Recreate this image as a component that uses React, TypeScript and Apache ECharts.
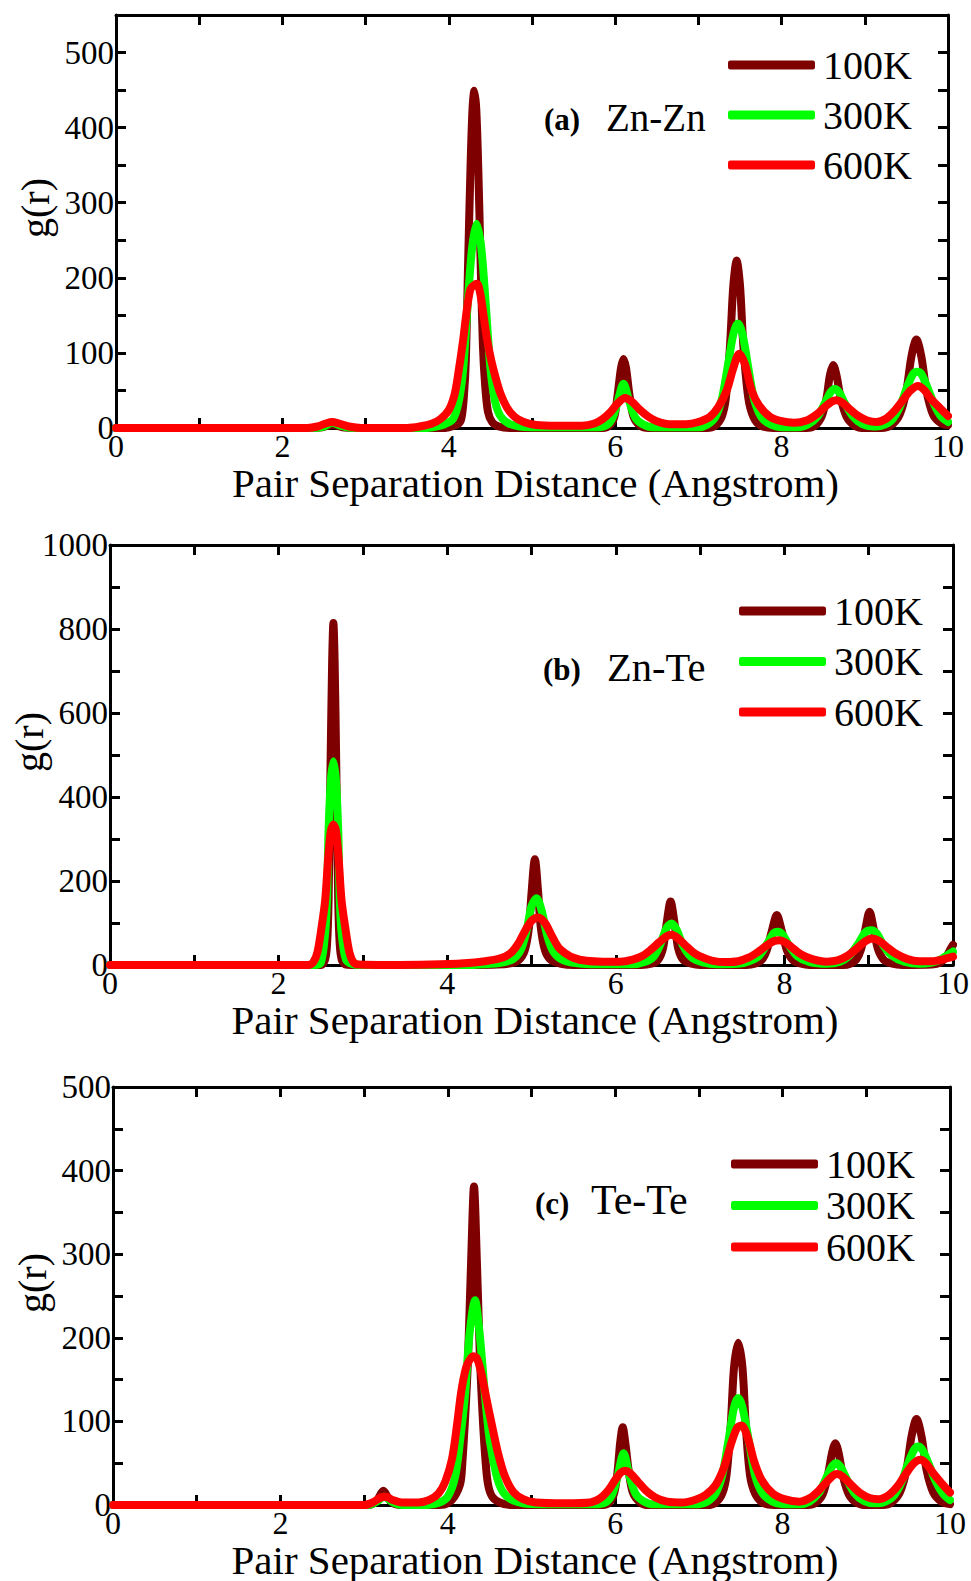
import React, { useEffect, useRef } from "react";
import * as echarts from "echarts";

// ---------------- DATA ----------------
const seriesNames = ["100K", "300K", "600K"];
const xTickLabels = ["0", "2", "4", "6", "8", "10"];
const panelTitles = ["Zn-Zn", "Zn-Te", "Te-Te"];
const panelTags = ["(a)", "(b)", "(c)"];
const xAxisTitle = "Pair Separation Distance (Angstrom)";
const yAxisTitle = "g(r)";

// Panel (a) Zn-Zn : [r, g(r)]
const znZn100K = [[0,0],[2.3,0],[2.45,0.5],[2.6,4],[2.75,0.5],[2.9,0],[3.9,0],[4.0,1],[4.11,5],[4.15,12],[4.18,40],[4.205,90],[4.23,210],[4.26,343],[4.285,425],[4.307,449],[4.33,425],[4.355,343],[4.385,210],[4.41,110],[4.435,60],[4.47,22],[4.52,8],[4.6,2],[4.75,0],[5.85,0],[5.93,3],[5.99,15],[6.03,45],[6.07,80],[6.10,92],[6.13,80],[6.17,45],[6.22,15],[6.3,3],[6.4,0],[7.1,0],[7.2,3],[7.28,15],[7.33,40],[7.38,110],[7.42,190],[7.46,223],[7.5,190],[7.54,110],[7.6,40],[7.66,15],[7.75,3],[7.9,0],[8.3,0],[8.4,3],[8.48,15],[8.54,40],[8.58,70],[8.62,84],[8.66,70],[8.71,40],[8.78,15],[8.88,3],[9.0,0],[9.2,0],[9.32,4],[9.42,18],[9.5,50],[9.56,95],[9.62,118],[9.68,95],[9.74,50],[9.82,18],[9.92,6],[10,4]];
const znZn300K = [[0,0],[2.35,0],[2.5,2],[2.6,7],[2.7,3],[2.85,0],[3.7,0],[3.85,2],[3.95,5],[4.05,12],[4.115,33],[4.17,75],[4.227,166],[4.28,240],[4.335,272],[4.39,240],[4.443,166],[4.5,80],[4.555,36],[4.62,16],[4.72,6],[4.85,2],[5.0,1],[5.8,1],[5.9,4],[5.97,14],[6.03,35],[6.1,59],[6.17,35],[6.24,14],[6.33,5],[6.45,1],[7.0,1],[7.1,4],[7.2,14],[7.28,38],[7.35,80],[7.42,125],[7.475,139],[7.53,125],[7.6,80],[7.67,38],[7.76,14],[7.88,4],[8.0,1],[8.2,1],[8.32,5],[8.43,15],[8.52,33],[8.59,48],[8.64,52],[8.69,48],[8.76,33],[8.86,15],[8.97,5],[9.1,2],[9.2,3],[9.32,10],[9.42,28],[9.51,55],[9.58,72],[9.63,75],[9.68,72],[9.76,52],[9.84,30],[9.92,15],[10,8]];
const znZn600K = [[0,0],[2.3,0],[2.42,2],[2.52,6],[2.6,8],[2.68,6],[2.8,2],[2.95,0],[3.5,0],[3.65,2],[3.8,6],[3.9,12],[4.0,24],[4.07,45],[4.12,77],[4.17,115],[4.22,160],[4.26,185],[4.3,190],[4.34,192],[4.38,178],[4.42,148],[4.46,118],[4.51,90],[4.56,68],[4.62,46],[4.7,27],[4.79,15],[4.9,8],[5.05,4],[5.3,3],[5.6,3],[5.75,6],[5.85,12],[5.95,22],[6.03,33],[6.12,40],[6.2,35],[6.3,24],[6.4,15],[6.5,9],[6.65,5],[6.85,5],[7.0,8],[7.14,15],[7.24,28],[7.34,50],[7.42,80],[7.49,99],[7.56,85],[7.64,50],[7.73,30],[7.86,15],[8.0,9],[8.15,7],[8.3,10],[8.42,18],[8.52,28],[8.6,35],[8.66,37],[8.73,34],[8.82,25],[8.92,16],[9.03,10],[9.14,8],[9.25,12],[9.35,22],[9.45,36],[9.55,50],[9.64,56],[9.72,50],[9.8,38],[9.9,27],[10,16]];

// Panel (b) Zn-Te
const znTe100K = [[0,0],[2.5,0],[2.55,12],[2.575,50],[2.593,155],[2.616,473],[2.635,720],[2.65,814],[2.665,720],[2.684,473],[2.707,155],[2.725,50],[2.75,12],[2.8,1],[2.9,0],[4.3,0],[4.6,1],[4.75,4],[4.85,12],[4.92,35],[4.97,90],[5.0,170],[5.04,252],[5.08,170],[5.11,90],[5.16,35],[5.23,12],[5.35,3],[5.5,0],[6.3,0],[6.42,3],[6.5,12],[6.56,40],[6.6,95],[6.65,151],[6.7,95],[6.74,40],[6.8,12],[6.9,3],[7.0,0],[7.55,0],[7.65,3],[7.73,12],[7.79,35],[7.85,80],[7.91,119],[7.97,80],[8.03,35],[8.1,12],[8.2,3],[8.3,0],[8.7,0],[8.78,3],[8.85,12],[8.91,38],[8.96,85],[9.01,127],[9.06,85],[9.11,38],[9.18,12],[9.28,3],[9.4,0],[9.75,1],[9.85,6],[9.92,20],[9.97,38],[10,48]];
const znTe300K = [[0,0],[2.42,0],[2.5,5],[2.552,76],[2.575,160],[2.592,315],[2.62,440],[2.65,485],[2.68,440],[2.708,315],[2.725,160],[2.748,76],[2.8,12],[2.88,2],[3.0,0],[4.2,0],[4.45,2],[4.65,6],[4.78,14],[4.87,35],[4.94,80],[5.0,140],[5.06,159],[5.12,130],[5.18,75],[5.25,35],[5.35,14],[5.5,5],[5.7,2],[6.2,2],[6.35,8],[6.45,20],[6.53,50],[6.6,88],[6.66,99],[6.72,85],[6.8,45],[6.9,18],[7.02,7],[7.2,2],[7.45,3],[7.58,9],[7.7,22],[7.8,52],[7.87,75],[7.92,79],[7.98,72],[8.06,45],[8.16,20],[8.3,7],[8.5,3],[8.66,8],[8.77,22],[8.88,52],[8.96,78],[9.03,83],[9.1,74],[9.18,45],[9.28,22],[9.42,8],[9.6,3],[9.75,6],[9.85,13],[9.93,23],[10,32]];
const znTe600K = [[0,0],[2.35,0],[2.41,6],[2.46,30],[2.51,90],[2.553,155],[2.59,260],[2.62,320],[2.65,334],[2.68,320],[2.71,260],[2.746,155],[2.79,90],[2.84,30],[2.89,6],[2.95,1],[3.3,0],[3.8,1],[4.2,4],[4.45,9],[4.63,16],[4.75,28],[4.84,50],[4.92,80],[5.0,105],[5.08,113],[5.16,100],[5.24,70],[5.32,42],[5.4,28],[5.5,17],[5.65,10],[5.85,8],[6.05,8],[6.2,13],[6.32,22],[6.42,37],[6.52,55],[6.6,68],[6.66,72],[6.73,65],[6.82,48],[6.92,30],[7.03,18],[7.15,10],[7.3,7],[7.45,9],[7.58,18],[7.7,33],[7.8,48],[7.88,57],[7.94,59],[8.01,54],[8.1,40],[8.2,25],[8.33,14],[8.5,8],[8.63,11],[8.75,22],[8.85,38],[8.95,55],[9.04,63],[9.12,58],[9.22,42],[9.33,26],[9.46,14],[9.6,9],[9.75,9],[9.87,13],[10,20]];

// Panel (c) Te-Te
const teTe100K = [[0,0],[3.05,0],[3.15,5],[3.23,17],[3.31,5],[3.42,0],[3.9,0],[4.0,2],[4.08,10],[4.15,26],[4.176,54],[4.21,110],[4.241,173],[4.279,293],[4.313,381],[4.347,293],[4.385,173],[4.42,100],[4.45,54],[4.48,25],[4.53,10],[4.62,3],[4.75,0],[5.85,0],[5.93,3],[5.99,15],[6.03,42],[6.06,75],[6.09,93],[6.12,75],[6.16,42],[6.21,15],[6.3,3],[6.4,0],[7.1,0],[7.2,3],[7.28,14],[7.33,36],[7.38,95],[7.42,165],[7.47,194],[7.52,165],[7.56,95],[7.61,36],[7.67,14],[7.76,3],[7.9,0],[8.3,0],[8.4,3],[8.48,13],[8.54,35],[8.59,62],[8.63,74],[8.67,62],[8.72,35],[8.79,13],[8.88,3],[9.0,0],[9.2,0],[9.3,3],[9.4,15],[9.48,42],[9.54,82],[9.6,103],[9.66,82],[9.72,42],[9.8,15],[9.9,4],[10,1]];
const teTe300K = [[0,0],[3.05,0],[3.15,4],[3.24,10],[3.33,4],[3.45,0],[3.75,0],[3.9,3],[4.0,10],[4.088,34],[4.15,80],[4.208,134],[4.26,205],[4.325,245],[4.38,205],[4.442,134],[4.5,78],[4.58,36],[4.65,17],[4.75,7],[4.9,2],[5.1,1],[5.8,1],[5.9,4],[5.97,14],[6.03,35],[6.1,62],[6.17,35],[6.24,14],[6.33,5],[6.45,1],[7.0,1],[7.1,4],[7.2,14],[7.28,36],[7.35,75],[7.42,117],[7.47,128],[7.52,117],[7.6,75],[7.67,36],[7.76,14],[7.88,4],[8.0,1],[8.2,1],[8.32,4],[8.43,14],[8.52,32],[8.59,46],[8.64,50],[8.69,46],[8.76,32],[8.86,14],[8.97,5],[9.1,2],[9.2,3],[9.32,10],[9.42,27],[9.5,50],[9.57,66],[9.62,70],[9.67,66],[9.75,48],[9.83,28],[9.92,13],[10,6]];
const teTe600K = [[0,0],[3.0,0],[3.1,3],[3.2,9],[3.26,10],[3.34,6],[3.45,3],[3.65,3],[3.78,6],[3.89,14],[3.97,28],[4.05,55],[4.108,94],[4.16,135],[4.22,165],[4.27,175],[4.31,178],[4.35,175],[4.4,158],[4.46,128],[4.53,94],[4.6,62],[4.68,35],[4.78,16],[4.9,7],[5.05,3],[5.4,2],[5.7,3],[5.82,8],[5.92,18],[6.0,30],[6.07,39],[6.12,41],[6.18,38],[6.27,28],[6.37,17],[6.48,9],[6.62,4],[6.8,3],[6.95,6],[7.08,12],[7.2,24],[7.3,45],[7.39,75],[7.46,93],[7.51,95],[7.58,82],[7.66,52],[7.75,30],[7.88,14],[8.02,7],[8.2,4],[8.32,8],[8.43,17],[8.53,28],[8.6,35],[8.65,37],[8.72,34],[8.82,24],[8.93,14],[9.05,8],[9.15,7],[9.27,12],[9.37,22],[9.47,37],[9.57,50],[9.65,54],[9.72,49],[9.8,38],[9.9,26],[10,15]];

const panelSeries = [
  [znZn100K, znZn300K, znZn600K],
  [znTe100K, znTe300K, znTe600K],
  [teTe100K, teTe300K, teTe600K],
];
const yMaxes = [550, 1000, 500];
const yTickSteps = [50, 100, 50];
const yLabelSteps = [100, 200, 100];

// ---------------- LAYOUT / STYLE ----------------
const FONT = '"Liberation Serif", "Times New Roman", Times, serif';
const COLORS = ["#7f0000", "#00ff00", "#ff0000"];
const grids = [
  { left: 116, right: 23, top: 15, height: 413 },
  { left: 110, right: 18, top: 545, height: 420 },
  { left: 113, right: 21, top: 1087, height: 418 },
];
const legendPos = [
  { left: 728, top: 45, itemGap: 10 },
  { left: 739, top: 591, itemGap: 10.5 },
  { left: 731, top: 1144, itemGap: 1.5 },
];
const tagPos = [
  { tagX: 544, tagY: 119, titleX: 606, titleY: 117, size: 39 },
  { tagX: 543, tagY: 669, titleX: 607, titleY: 667, size: 40.5 },
  { tagX: 535, tagY: 1203, titleX: 591, titleY: 1200, size: 42 },
];
const gLabelPos = [
  { x: 35, y: 208 },
  { x: 29, y: 742 },
  { x: 32, y: 1283 },
];

function buildOption() {
  const axisLine = { show: true, onZero: false, lineStyle: { color: "#000", width: 3 } };
  const axisTick = { show: true, inside: true, length: 10, lineStyle: { color: "#000", width: 3 } };
  const xAxis: any[] = [];
  const yAxis: any[] = [];
  const series: any[] = [];
  const graphic: any[] = [];
  const legend: any[] = [];

  grids.forEach((g, i) => {
    const xLabel = {
      fontSize: 32, fontFamily: FONT, color: "#000", margin: 2,
      formatter: (v: number) => (xTickLabels.includes(String(v)) ? String(v) : ""),
    };
    xAxis.push({
      type: "value", gridIndex: i, min: 0, max: 10, interval: 1, position: "bottom",
      axisLine, axisTick, axisLabel: xLabel, splitLine: { show: false },
      name: xAxisTitle, nameLocation: "middle", nameGap: 32,
      nameTextStyle: { fontSize: 41, fontFamily: FONT, color: "#000", padding: [0, 0, 0, 7] },
    });
    xAxis.push({
      type: "value", gridIndex: i, min: 0, max: 10, interval: 1, position: "top",
      axisLine, axisTick, axisLabel: { show: false }, splitLine: { show: false },
    });
    const ls = yLabelSteps[i];
    yAxis.push({
      type: "value", gridIndex: i, min: 0, max: yMaxes[i], interval: yTickSteps[i], position: "left",
      axisLine, axisTick, splitLine: { show: false },
      axisLabel: {
        fontSize: 33, fontFamily: FONT, color: "#000", margin: 2,
        formatter: (v: number) => (v % ls === 0 ? String(v) : ""),
      },
    });
    yAxis.push({
      type: "value", gridIndex: i, min: 0, max: yMaxes[i], interval: yTickSteps[i], position: "right",
      axisLine, axisTick, axisLabel: { show: false }, splitLine: { show: false },
    });
    panelSeries[i].forEach((data, k) => {
      series.push({
        type: "line", name: seriesNames[k], xAxisIndex: 2 * i, yAxisIndex: 2 * i,
        data, showSymbol: false, symbol: "none", smooth: 0.3,
        lineStyle: { color: COLORS[k], width: 8, cap: "round", join: "round" },
        itemStyle: { color: COLORS[k] },
        z: 3 + k,
      });
    });
    legend.push({
      orient: "vertical", left: legendPos[i].left, top: legendPos[i].top,
      itemGap: legendPos[i].itemGap, itemWidth: 87, itemHeight: 9, icon: "roundRect",
      padding: 0, selectedMode: false, data: seriesNames,
      textStyle: { fontSize: 40, fontFamily: FONT, color: "#000", lineHeight: 40, padding: [0, 0, 0, 3] },
    });
    graphic.push({
      type: "text", x: gLabelPos[i].x, y: gLabelPos[i].y, rotation: Math.PI / 2,
      style: { text: yAxisTitle, fontSize: 40, fontFamily: FONT, fill: "#000", align: "center", verticalAlign: "middle" },
    });
    graphic.push({
      type: "text", x: tagPos[i].tagX, y: tagPos[i].tagY,
      style: { text: panelTags[i], fontSize: 31, fontWeight: "bold", fontFamily: FONT, fill: "#000", align: "left", verticalAlign: "middle" },
    });
    graphic.push({
      type: "text", x: tagPos[i].titleX, y: tagPos[i].titleY,
      style: { text: panelTitles[i], fontSize: tagPos[i].size, fontFamily: FONT, fill: "#000", align: "left", verticalAlign: "middle" },
    });
  });

  return {
    animation: false,
    backgroundColor: "#fff",
    grid: grids.map((g) => ({ ...g, containLabel: false, outerBoundsMode: "none", show: false })),
    xAxis, yAxis, series, legend, graphic,
  };
}

export default function App() {
  const ref = useRef<HTMLDivElement>(null);
  useEffect(() => {
    if (!ref.current) return;
    const chart = echarts.init(ref.current, null, { renderer: "svg" });
    chart.setOption(buildOption() as any);
    return () => chart.dispose();
  }, []);
  return (
    <div
      ref={ref}
      style={{ position: "absolute", left: 0, top: 0, width: 971, height: 1581, background: "#fff" }}
    />
  );
}
